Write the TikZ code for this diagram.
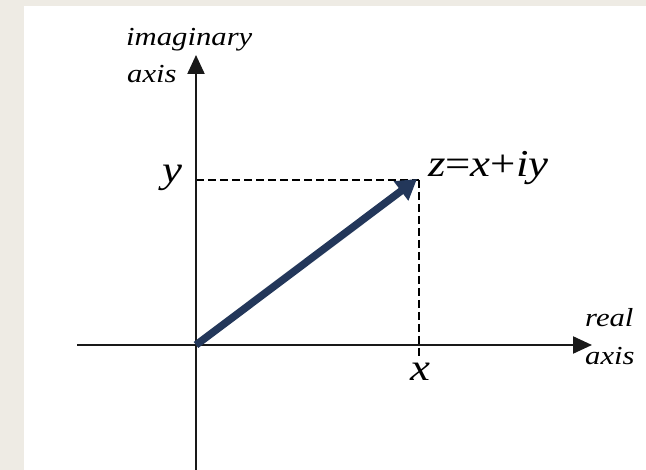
\documentclass[tikz,border=0pt]{standalone}
\usepackage{fontspec}
\setmainfont{Liberation Serif}
\newfontfamily\labfont[FakeStretch=1.18,UprightFont=*,ItalicFont=* Italic]{Liberation Serif}
\usetikzlibrary{arrows.meta}
\definecolor{bgbeige}{RGB}{238,235,228}
\definecolor{vecblue}{RGB}{35,55,90}
\begin{document}
\begin{tikzpicture}[x=1pt,y=-1pt,
  axisline/.style={line width=2.2pt,black!90,-{Triangle[length=19pt,width=17pt]}},
  guide/.style={line width=1.6pt,black,dash pattern=on 8pt off 4pt},
  vec/.style={line width=7.5pt,vecblue,-{Triangle[length=20pt,width=23pt]}},
  small/.style={inner sep=0pt,font=\labfont\itshape\fontsize{26}{26}\selectfont},
  big/.style={inner sep=0pt,font=\labfont\itshape\fontsize{38}{38}\selectfont}]
\fill[bgbeige] (0,0) rectangle (646,470);
\fill[white] (24,6) rectangle (646,470);
\useasboundingbox (0,0) rectangle (646,470);
% coordinates
\coordinate (O) at (196,345);
\coordinate (P) at (419,180);
\coordinate (Ptip) at (417,179);
\coordinate (L) at (77,345);
\coordinate (R) at (592,345);
\coordinate (B) at (196,470);
\coordinate (T) at (196,55);
\coordinate (Yax) at (196,180);
\coordinate (Xend) at (419,357);
% dashed guides
\draw[guide] (Yax) -- (P);
\draw[guide] (P) -- (Xend);
% axes
\draw[axisline] (L) -- (R);
\draw[axisline] (B) -- (T);
% vector
\draw[vec] (O) -- (Ptip);
% labels
\node[small,anchor=base west] (im1) at (126,46) {imaginary};
\node[small,anchor=base west] (im2) at (127,83) {axis};
\node[small,anchor=base west] (re1) at (585,327) {real};
\node[small,anchor=base west] (re2) at (585,365) {axis};
\node[big,anchor=base west] (zl) at (428,177) {z\textup{=}x\textup{+}iy};
\node[big,anchor=base east] (yl) at (183,183) {y};
\node[big,anchor=base] (xl) at (420,381) {x};
\end{tikzpicture}
\end{document}
